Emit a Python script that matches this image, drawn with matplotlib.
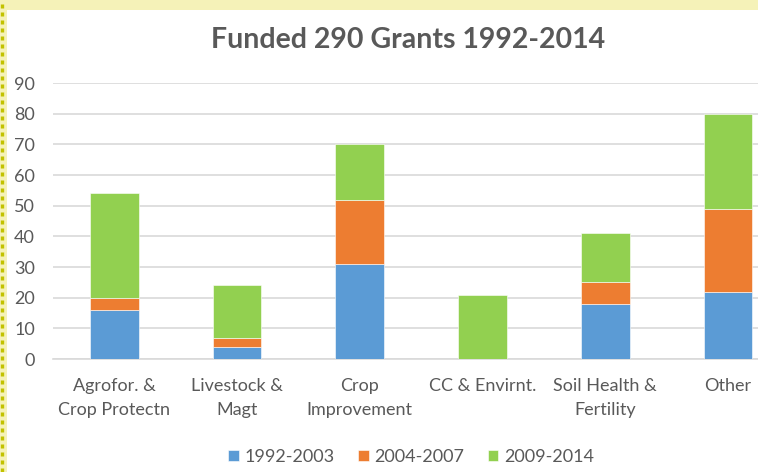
import matplotlib.pyplot as plt
from matplotlib.patches import Rectangle
from matplotlib.lines import Line2D

plt.rcParams["font.family"] = ["Lato", "DejaVu Sans"]

categories = ["Agrofor. &\nCrop Protectn", "Livestock &\nMagt", "Crop\nImprovement",
              "CC & Envirnt.", "Soil Health &\nFertility", "Other"]
series_names = ["1992-2003", "2004-2007", "2009-2014"]
grants_1992_2003 = [16, 4, 31, 0, 18, 22]
grants_2004_2007 = [4, 3, 21, 0, 7, 27]
grants_2009_2014 = [34, 17, 18, 21, 16, 31]
colors = ["#5B9BD5", "#ED7D31", "#92D050"]
text_grey = "#595959"

fig = plt.figure(figsize=(7.58, 4.72), dpi=100)

# yellow frame bits from the screenshot
fig.patches.append(Rectangle((0, 1 - 10 / 472), 1, 10 / 472, transform=fig.transFigure,
                             facecolor="#F5F2B8", edgecolor="none", zorder=0))
fig.patches.append(Rectangle((0, 0), 7 / 758, 1, transform=fig.transFigure,
                             facecolor="#F5F2B8", edgecolor="none", zorder=0))
fig.lines.append(Line2D([1.5 / 758, 1.5 / 758], [0, 1], transform=fig.transFigure,
                        color="#C2C200", linewidth=2.4, linestyle=(0, (1.2, 1.2)), zorder=1))

ax = fig.add_axes([53 / 758, 1 - 359 / 472, 1 - 53 / 758, (359 - 83) / 472])

x = list(range(len(categories)))
width = 0.396
bottom = [0] * len(categories)
for name, vals, c in zip(series_names, [grants_1992_2003, grants_2004_2007, grants_2009_2014], colors):
    ax.bar(x, vals, width=width, bottom=bottom, color=c, label=name,
           edgecolor="white", linewidth=0.4, zorder=3)
    bottom = [b + v for b, v in zip(bottom, vals)]

ax.set_ylim(0, 90)
ax.set_yticks(range(0, 91, 10))
ax.set_xlim(-0.5, 5.245)
ax.set_xticks(x)
ax.set_xticklabels(categories, linespacing=1.6)
ax.grid(axis="y", color="#D9D9D9", linewidth=1.2, zorder=0)
ax.set_axisbelow(True)
for s in ["top", "right", "left"]:
    ax.spines[s].set_visible(False)
ax.spines["bottom"].set_color("#D9D9D9")
ax.spines["bottom"].set_linewidth(1.2)
ax.tick_params(axis="both", length=0, labelsize=13, colors=text_grey)
ax.tick_params(axis="y", pad=13)
ax.tick_params(axis="x", pad=14)

fig.text(408 / 758, 1 - 40 / 472, "Funded 290 Grants 1992-2014", ha="center", va="center",
         fontsize=20.5, fontweight="bold", color=text_grey)

fig.legend(loc="center", bbox_to_anchor=(411 / 758, 1 - 457 / 472), ncol=3, frameon=False,
           fontsize=13, labelcolor=text_grey, handlelength=0.6, handleheight=0.6,
           handletextpad=0.3, columnspacing=1.3)

fig.savefig("out.png", dpi=100)
